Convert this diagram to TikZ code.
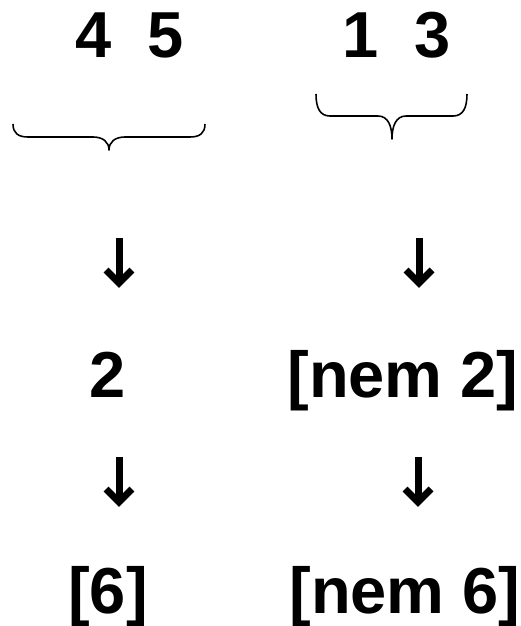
\documentclass[tikz,border=0pt]{standalone}
\usepackage{fontspec}
\setmainfont{Liberation Sans}
\usetikzlibrary{calc}
\tikzset{
  lbl/.style={anchor=base, inner sep=0pt, font=\fontsize{65}{78}\selectfont\bfseries},
  brace/.style={line width=1.6pt, line join=round},
  arrowstem/.style={line width=7pt, line cap=butt, shorten >=5pt},
  arrowhead/.style={line width=7pt, line cap=butt, line join=miter}
}
\newcommand{\downarr}[2]{%
  \draw[arrowstem] (#1) -- (#2);
  \draw[arrowhead] ($(#2)+(-13,-18)$) -- ($(#2)+(0,-5)$) -- ($(#2)+(13,-18)$);
}
\begin{document}
\begin{tikzpicture}[x=1pt,y=-1pt]
\useasboundingbox (0,0) rectangle (521,626);
% top row
\node[lbl] (n4) at (93.5,57) {4};
\node[lbl] (n5) at (166,57) {5};
\node[lbl] (n1) at (361,57) {1};
\node[lbl] (n3) at (433,57) {3};
% braces
\draw[brace] (13,124) .. controls (13,133) and (18,137) .. (28,137) -- (93,137)
  .. controls (103,137) and (109,142) .. (109,150)
  .. controls (109,142) and (115,137) .. (125,137) -- (190,137)
  .. controls (200,137) and (205,133) .. (205,124);
\draw[brace] (316,94) .. controls (316,108) and (320,116) .. (330,116) -- (378,116)
  .. controls (388,116) and (392,126) .. (392,139)
  .. controls (392,126) and (396,116) .. (406,116) -- (453,116)
  .. controls (463,116) and (467,108) .. (467,94);
% middle row
\node[lbl] (m2) at (108,397) {2};
\node[lbl] (mn2) at (403,397) {[nem 2]};
% bottom row
\node[lbl] (b6) at (108,613) {[6]};
\node[lbl] (bn6) at (405,613) {[nem 6]};
% arrows
\coordinate (a1s) at (119,238);
\coordinate (a1e) at (119,288);
\coordinate (a2s) at (419,238);
\coordinate (a2e) at (419,288);
\coordinate (a3s) at (119,457);
\coordinate (a3e) at (119,507);
\coordinate (a4s) at (418,457);
\coordinate (a4e) at (418,507);
\downarr{a1s}{a1e}
\downarr{a2s}{a2e}
\downarr{a3s}{a3e}
\downarr{a4s}{a4e}
\end{tikzpicture}
\end{document}
